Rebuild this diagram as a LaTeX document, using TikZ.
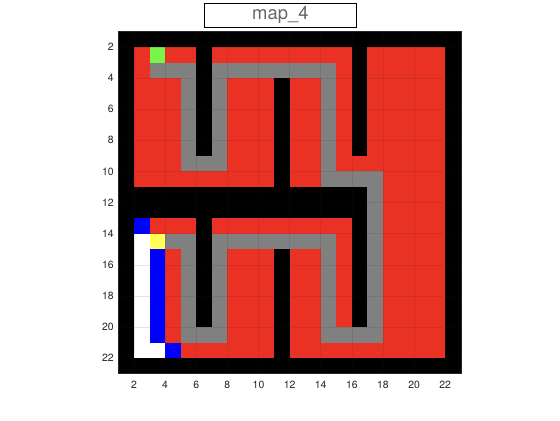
\documentclass[tikz,border=0pt]{standalone}
\usepackage{fontspec}
\setmainfont{TeX Gyre Heros}
\definecolor{mapred}{RGB}{233,50,35}
\definecolor{mapgray}{RGB}{128,128,128}
\definecolor{mapgreen}{RGB}{120,245,70}
\definecolor{mapyellow}{RGB}{255,255,85}
\definecolor{mapblue}{RGB}{0,0,255}
\definecolor{axcol}{RGB}{38,38,38}
\tikzset{
  wall/.style={fill=black},
  route/.style={fill=mapgray},
  gridline/.style={draw=axcol, draw opacity=0.12, line width=0.5bp},
  ticklab/.style={text=axcol, font=\fontsize{10.5}{12}\selectfont, inner sep=0pt},
  titlebox/.style={draw=black, line width=1.5bp, fill=white, minimum width=152bp, minimum height=24bp, text=black!60, font=\fontsize{18.5}{20}\selectfont, inner sep=0pt}
}
\begin{document}
\begin{tikzpicture}[x=1bp,y=-1bp]
\fill[white] (0,0) rectangle (560,420);
\useasboundingbox (0,0) rectangle (560,420);
\begin{scope}[shift={(102.9bp,-15.84bp)}, x=15.56bp, y=-15.56bp]
  % free space
  \fill[mapred] (2,2) rectangle (22,22);
  % border
  \fill[wall] (1,1) rectangle (23,2);
  \fill[wall] (1,22) rectangle (23,23);
  \fill[wall] (1,1) rectangle (2,23);
  \fill[wall] (22,1) rectangle (23,23);
  % walls
  \fill[wall] (6,2) rectangle (7,9);
  \fill[wall] (16,2) rectangle (17,9);
  \fill[wall] (11,4) rectangle (12,11);
  \fill[wall] (2,11) rectangle (17,13);
  \fill[wall] (6,13) rectangle (7,20);
  \fill[wall] (16,13) rectangle (17,20);
  \fill[wall] (11,15) rectangle (12,22);
  % path
  \fill[route] (3,3) rectangle (6,4);
  \fill[route] (5,4) rectangle (6,10);
  \fill[route] (6,9) rectangle (7,10);
  \fill[route] (7,3) rectangle (8,10);
  \fill[route] (8,3) rectangle (15,4);
  \fill[route] (14,4) rectangle (15,11);
  \fill[route] (15,10) rectangle (18,11);
  \fill[route] (17,11) rectangle (18,21);
  \fill[route] (14,20) rectangle (17,21);
  \fill[route] (14,14) rectangle (15,20);
  \fill[route] (7,14) rectangle (14,15);
  \fill[route] (7,15) rectangle (8,21);
  \fill[route] (5,20) rectangle (7,21);
  \fill[route] (5,14) rectangle (6,20);
  \fill[route] (4,14) rectangle (5,15);
  % start / goal / frontier
  \fill[mapgreen] (3,2) rectangle (4,3);
  \fill[mapyellow] (3,14) rectangle (4,15);
  \fill[mapblue] (2,13) rectangle (3,14);
  \fill[mapblue] (3,15) rectangle (4,21);
  \fill[mapblue] (4,21) rectangle (5,22);
  \fill[white] (2,14) rectangle (3,22);
  \fill[white] (3,21) rectangle (4,22);
  % grid
  \foreach \v in {2,4,...,22} {
    \draw[gridline] (\v,1) -- (\v,23);
    \draw[gridline] (1,\v) -- (23,\v);
  }
  \draw[draw=axcol, line width=0.5bp] (1,1) rectangle (23,23);
  % tick labels
  \foreach \v in {2,4,...,22} {
    \node[ticklab, anchor=center] (xl\v) at (\v,23.72) {\v};
    \node[ticklab, anchor=east] (yl\v) at (0.71,\v) {\v};
  }
\end{scope}
\node[titlebox] (title) at (280.4,15.3) {map\_4};
\end{tikzpicture}
\end{document}
